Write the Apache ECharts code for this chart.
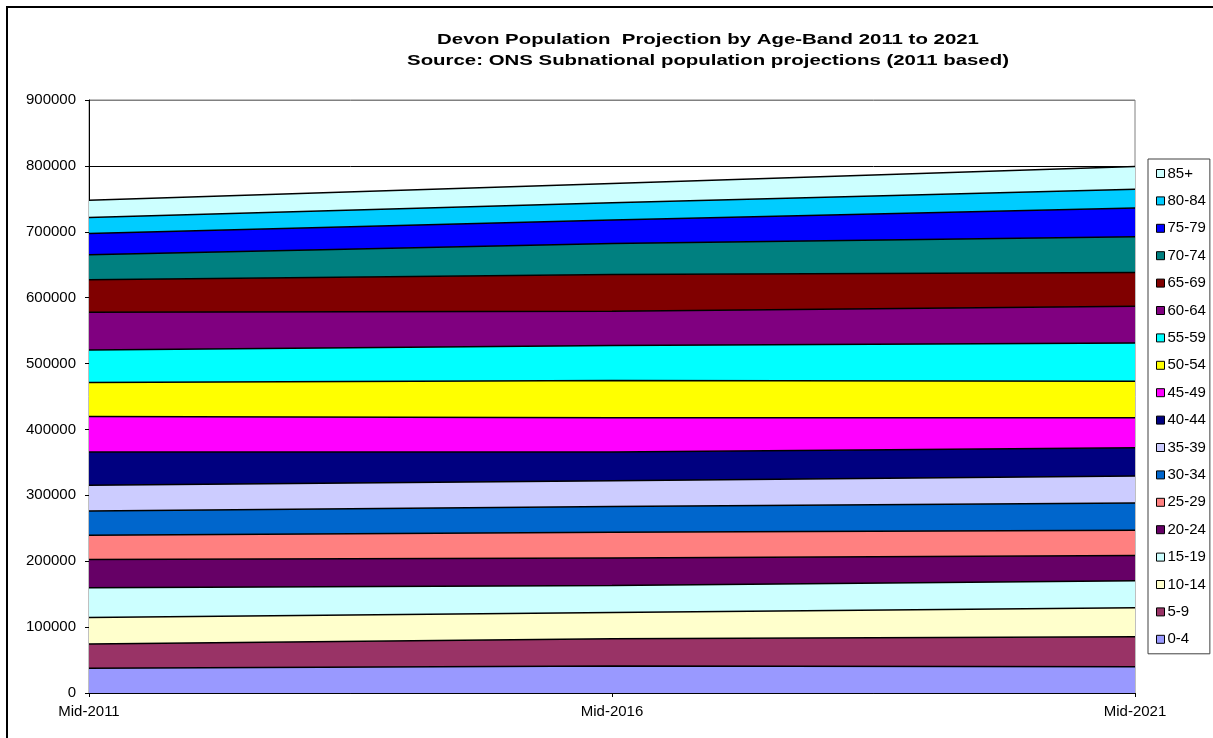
<!DOCTYPE html>
<html>
<head>
<meta charset="utf-8">
<title>Devon Population Projection by Age-Band 2011 to 2021</title>
<script src="https://cdn.jsdelivr.net/npm/echarts@6/dist/echarts.min.js"></script>
<style>
  html, body { margin: 0; padding: 0; background: #ffffff; }
  #chart { width: 1213px; height: 738px; }
</style>
</head>
<body>
<div id="chart"></div>
<script>
// Projection years (category axis)
const years = ['Mid-2011', 'Mid-2016', 'Mid-2021'];

// Population per five-year age band, one value per projection year
const age0to4   = [37400, 40900, 39800];
const age5to9   = [36800, 41400, 45500];
const age10to14 = [40500, 40000, 43900];
const age15to19 = [44900, 40900, 41000];
const age20to24 = [42900, 41800, 38400];
const age25to29 = [36900, 38900, 38400];
const age30to34 = [36800, 39000, 41300];
const age35to39 = [39000, 39400, 41000];
const age40to44 = [50400, 43300, 43000];
const age45to49 = [54100, 52100, 45400];
const age50to54 = [51500, 56500, 55500];
const age55to59 = [49500, 53100, 58100];
const age60to64 = [57000, 51900, 55500];
const age65to69 = [49600, 56100, 51500];
const age70to74 = [37900, 47000, 54100];
const age75to79 = [32200, 35400, 43500];
const age80to84 = [24300, 26200, 28800];
const age85plus = [26300, 29300, 34300];

// Band names, bottom of the stack first
const bandNames = ['0-4', '5-9', '10-14', '15-19', '20-24', '25-29', '30-34', '35-39', '40-44',
                   '45-49', '50-54', '55-59', '60-64', '65-69', '70-74', '75-79', '80-84', '85+'];
const bandValues = [age0to4, age5to9, age10to14, age15to19, age20to24, age25to29, age30to34,
                    age35to39, age40to44, age45to49, age50to54, age55to59, age60to64, age65to69,
                    age70to74, age75to79, age80to84, age85plus];
const bandColors = ['#9999FF', '#993366', '#FFFFCC', '#CCFFFF', '#660066', '#FF8080', '#0066CC',
                    '#CCCCFF', '#000080', '#FF00FF', '#FFFF00', '#00FFFF', '#800080', '#800000',
                    '#008080', '#0000FF', '#00CCFF', '#CCFFFF'];

// Value axis ticks
const yTicks = [0, 100000, 200000, 300000, 400000, 500000, 600000, 700000, 800000, 900000];

const FONT = '"Liberation Sans", Arial, sans-serif';

const series = bandNames.map((name, i) => ({
  name: name,
  type: 'line',
  stack: 'population',
  data: bandValues[i],
  symbol: 'none',
  smooth: false,
  color: bandColors[i],
  itemStyle: { color: bandColors[i] },
  lineStyle: { color: '#000000', width: 1.5 },
  areaStyle: { color: bandColors[i], opacity: 1 },
  emphasis: { disabled: true },
  z: 2
}));

// Grid lines: black, except the top edge which follows the grey plot border
const splitColors = yTicks.map((t, i) => (i === yTicks.length - 1 ? '#808080' : '#000000'));

const chart = echarts.init(document.getElementById('chart'), null, { renderer: 'canvas' });

// Title lines are drawn slightly widened, like the original workbook chart
function titleLine(text, y) {
  return {
    type: 'text', silent: true, z: 100,
    x: 708, y: y, scaleX: 1.36, scaleY: 1,
    style: {
      text: text, x: 0, y: 0,
      textAlign: 'center', textVerticalAlign: 'middle',
      font: 'bold 15px ' + FONT, fill: '#000000'
    }
  };
}

chart.setOption({
  animation: false,
  backgroundColor: '#ffffff',
  textStyle: { fontFamily: FONT },
  grid: {
    left: 89, right: 78, top: 100, bottom: 45,
    show: true, borderColor: '#808080', borderWidth: 1, backgroundColor: '#ffffff'
  },
  legend: {
    orient: 'vertical',
    left: 1148, top: 159,
    width: 66,
    padding: [7, 4, 7, 8],
    itemGap: 12.4,
    itemWidth: 8, itemHeight: 8,
    icon: 'rect',
    backgroundColor: '#ffffff',
    borderColor: '#404040', borderWidth: 1,
    itemStyle: { borderColor: '#000000', borderWidth: 1 },
    textStyle: { fontFamily: FONT, fontSize: 15, color: '#000000', lineHeight: 14, padding: [0, 0, 0, -2] },
    data: bandNames.slice().reverse(),
    selectedMode: false
  },
  xAxis: {
    type: 'category',
    data: years,
    boundaryGap: false,
    axisLine: { lineStyle: { color: '#000000', width: 1 } },
    axisTick: { show: true, alignWithLabel: true, length: 4, lineStyle: { color: '#000000' } },
    axisLabel: { fontFamily: FONT, fontSize: 15, color: '#000000', margin: 11 },
    splitLine: { show: false }
  },
  yAxis: {
    type: 'value',
    min: 0, max: 900000, interval: 100000,
    axisLine: { show: true, lineStyle: { color: '#000000', width: 1 } },
    axisTick: { show: true, length: 4, lineStyle: { color: '#000000' } },
    axisLabel: {
      fontFamily: FONT, fontSize: 15, color: '#000000', margin: 13,
      formatter: (v) => String(v)
    },
    splitLine: { show: true, lineStyle: { color: splitColors, width: 1 } }
  },
  graphic: [
    {
      type: 'rect', silent: true, z: 100,
      shape: { x: 7, y: 7, width: 1230, height: 760 },
      style: { fill: null, stroke: '#000000', lineWidth: 2 }
    },
    {
      type: 'text', silent: true, z: 100,
      style: {
        text: 'Figure 3: Devon Population Projection by Age-Band, 2011 to 2021',
        x: 8, y: 0, textAlign: 'left', textVerticalAlign: 'bottom',
        font: 'bold 20px ' + FONT, fill: '#000000'
      }
    },
    titleLine('Devon Population  Projection by Age-Band 2011 to 2021', 40),
    titleLine('Source: ONS Subnational population projections (2011 based)', 61)
  ],
  series: series
});
</script>
</body>
</html>
